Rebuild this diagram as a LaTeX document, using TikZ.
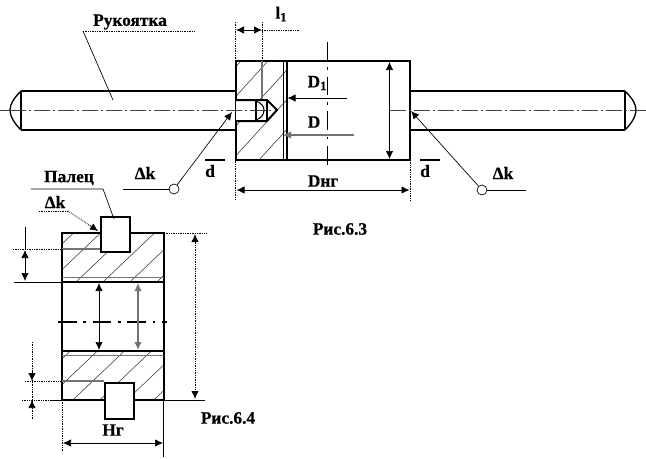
\documentclass[tikz,border=0pt]{standalone}
\usepackage{fontspec}
\setmainfont[BoldFeatures={FakeBold=0.5}]{Liberation Serif}
\usetikzlibrary{arrows.meta}
\tikzset{
  thick line/.style={line width=1.5pt,draw=black},
  thin line/.style={line width=.5pt,draw=black},
  grey line/.style={line width=.8pt,draw=black!55},
  hatch/.style={line width=.4pt,draw=black!80},
  dots/.style={line width=.6pt,draw=black,dash pattern=on .6pt off .7pt},
  axis/.style={line width=.5pt,draw=black!75,dash pattern=on 12pt off 2pt on 2pt off 2pt},
  axis bold/.style={line width=1.1pt,draw=black,dash pattern=on 14pt off 5pt on 2pt off 5pt},
  tip both/.style={{Latex[length=6pt,width=5.5pt]}-{Latex[length=6pt,width=5.5pt]}},
  tip end/.style={-{Latex[length=6pt,width=5.5pt]}},
  lbl/.style={font=\bfseries\fontsize{13}{14}\selectfont,inner sep=0pt},
  ring/.style={circle,draw=black,line width=.5pt,fill=white,minimum size=7.5pt,inner sep=0pt},
  pinbox/.style={line width=1.5pt,draw=black,fill=white}
}
\newcommand{\lowidx}[1]{\raisebox{-.35ex}{\fontsize{9.5}{10}\selectfont #1}}
\begin{document}
\begin{tikzpicture}[x=.75pt,y=-.75pt]
\useasboundingbox (0,0) rectangle (646,458);
\fill[white] (0,0) rectangle (646,458);

% ---------- Fig 6.3 : handles
\draw[thick line] (21,91) -- (236,91);
\draw[line width=1pt] (21,130) -- (236,130);
\draw[thick line] (21,91) -- (21,130);
\draw[line width=1pt] (21,91) .. controls (14,98) and (10,104) .. (10,110) .. controls (10,116) and (14,123) .. (21,130);
\draw[thick line] (410,91) -- (625,91);
\draw[line width=1pt] (410,130) -- (625,130);
\draw[thick line] (625,91) -- (625,130);
\draw[line width=1pt] (625,91) .. controls (632,98) and (636,104) .. (636,110) .. controls (636,116) and (632,123) .. (625,130);

% hatching of the head
\begin{scope}
\clip (236,61) rectangle (287,160);
\foreach \s in {-2,...,5}
  \draw[hatch] (205+\s*27,160) -- ++(100,-110);
\end{scope}
% head
\draw[thick line] (236,61) rectangle (410,160);
\draw[thick line] (287,61) -- (287,160);
\draw[thin line] (283,61) -- (283,160);
\draw[grey line] (262,61) -- (262,100);

% pin in head
\path[fill=white] (236,100) -- (267,100) -- (277,110) -- (267,121) -- (236,121) -- cycle;
\draw[thick line,line join=miter] (236,100) -- (267,100) -- (277,110) -- (267,121) -- (236,121);
\draw[line width=1pt] (256,100) -- (256,121);
\draw[line width=.8pt] (256,101) .. controls (261,103) and (264,106) .. (264,110) .. controls (264,115) and (261,118) .. (256,120);
\draw[line width=1pt] (267,100) -- (267,121);

% centre lines
\draw[axis] (0,110) -- (10,110);
\draw[axis] (10,110) -- (274,110);
\draw[axis] (390,110) -- (646,110);
\draw[axis bold] (327.5,42) -- (327.5,165);

% dimension lines
\draw[dots] (235,22) -- (235,200);
\draw[dots] (262,22) -- (262,61);
\draw[dots] (410,160) -- (410,200);
\draw[tip both,thin line] (236,30) -- (262,30);
\draw[dots] (262,30) -- (299,30);
\node[lbl] (l1) at (281,14) {l\lowidx{1}};
\draw[tip end,line width=.5pt] (347,98) -- (287.5,98);
\node[lbl] (d1) at (317,83) {D\lowidx{1}};
\draw[tip end,grey line] (354,135) -- (283,135);
\node[lbl] (dd) at (314,122) {D};
\draw[tip both,thin line] (389.5,62) -- (389.5,159);
\draw[tip both,thin line] (236.5,190) -- (409.5,190);
\node[lbl] (dng) at (323,181) {Dнг};

% d labels
\draw[line width=1pt] (205,160) -- (225,160);
\node[lbl] (dl) at (210,171) {d};
\draw[line width=1pt] (420,160) -- (440,160);
\node[lbl] (dr) at (425,171) {d};

% Δk leaders
\node[ring] (rl) at (174,189) {};
\node[ring] (rr) at (482,190) {};
\coordinate (tl) at (232,112);
\coordinate (tr) at (411,111);
\coordinate (lle) at (123,189);
\coordinate (rre) at (526,190);
\draw[tip end,thin line] (rl) -- (tl);
\draw[tip end,thin line] (rr) -- (tr);
\draw[thin line] (lle) -- (rl);
\draw[thin line] (rr) -- (rre);
\node[lbl] (kl) at (145,173) {Δk};
\node[lbl] (kr) at (503,173) {Δk};

% Рукоятка
\node[lbl] (ruk) at (130,22) {Рукоятка};
\coordinate (r0) at (83,31);
\coordinate (r1) at (194,31);
\coordinate (r2) at (113,100);
\draw[dots] (r0) -- (r1);
\draw[thin line] (r0) -- (r2);
\node[lbl] (f3) at (340,229) {Рис.6.3};

% ---------- Fig 6.4
\begin{scope}
\clip (62,233) rectangle (164,282);
\foreach \s in {-3,...,8}
  \draw[hatch] (30+\s*27,300) -- ++(100,-95);
\end{scope}
\begin{scope}
\clip (62,351) rectangle (164,400);
\foreach \s in {-3,...,8}
  \draw[hatch] (30+\s*27,415) -- ++(100,-95);
\end{scope}
\draw[thick line] (62,233) rectangle (164,400);
\draw[thick line] (62,282) -- (164,282);
\draw[thick line] (62,351) -- (164,351);
\draw[grey line,line width=.6pt] (62,277) -- (164,277);
\draw[grey line,line width=.6pt] (62,355) -- (164,355);
\draw[grey line] (62,249) -- (100,249);
\draw[grey line] (62,381) -- (104,381);

% fingers
\node[pinbox,anchor=north west,minimum width=22pt,minimum height=26.5pt,inner sep=0pt] (fu) at (100,216) {};
\node[pinbox,anchor=north west,minimum width=22pt,minimum height=27pt,inner sep=0pt] (fd) at (104,382) {};
\draw[dots] (130,216) -- (130,233);

\draw[axis bold] (58,322) -- (167,322);

% extensions
\draw[dots] (13,249) -- (62,249);
\draw[dots] (25,381) -- (62,381);
\draw[dots] (22,400) -- (50,400);
\draw[thin line] (50,400) -- (62,400);
\draw[thin line] (14,282) -- (62,282);
\draw[dots] (164,233) -- (206,233);
\draw[thin line] (164,400) -- (205,400);
\draw[dots] (62,400) -- (62,452);
\draw[thin line] (163.5,400) -- (163.5,457);

% dimensions
\draw[dots,tip both] (195,234) -- (195,399);
\draw[thin line] (25,227) -- (25,249);
\draw[thin line,tip both] (25,250) -- (25,281);
\draw[dots] (32,342) -- (32,420);
\draw[line width=.5pt,tip end] (32,372) -- (32,381);
\draw[line width=.5pt,tip end] (32,409) -- (32,400);
\draw[thin line,tip both] (99,283) -- (99,350);
\draw[grey line,tip both] (138,283) -- (138,350);
\draw[thin line,tip both] (63,443) -- (163,443);
\node[lbl] (ng) at (113,430) {Нг};

% Палец
\node[lbl] (pal) at (69,178) {Палец};
\coordinate (p0) at (31,189);
\coordinate (p1) at (103,189);
\coordinate (p2) at (114,219);
\draw[thin line] (p0) -- (p1) -- (p2);
\node[lbl] (k3) at (55,202) {Δk};
\coordinate (k0) at (39,211);
\coordinate (k1) at (68,211);
\coordinate (k2) at (98,231);
\draw[dots] (k0) -- (k1);
\draw[dots] (k1) -- (92,227);
\draw[tip end,thin line] (90,225.5) -- (k2);
\node[lbl] (f4) at (228,418) {Рис.6.4};
\end{tikzpicture}
\end{document}
